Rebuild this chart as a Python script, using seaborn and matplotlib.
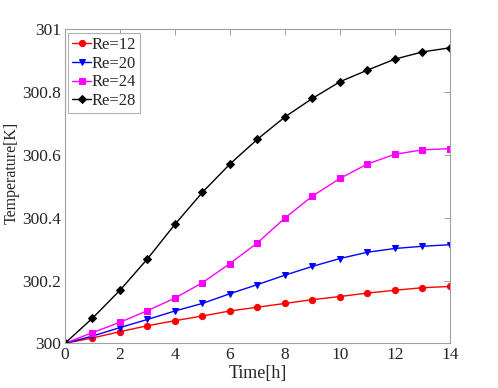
import numpy as np
import pandas as pd
import seaborn as sns
import matplotlib
matplotlib.use("Agg")
import matplotlib.pyplot as plt

hours = list(range(15))
re12 = [0, 0.017, 0.037, 0.056, 0.072, 0.087, 0.103, 0.115, 0.127, 0.139, 0.149, 0.160, 0.169, 0.177, 0.181]
re20 = [0, 0.023, 0.050, 0.076, 0.103, 0.127, 0.158, 0.187, 0.217, 0.245, 0.270, 0.290, 0.302, 0.309, 0.314]
re24 = [0, 0.034, 0.067, 0.104, 0.144, 0.193, 0.254, 0.320, 0.399, 0.469, 0.525, 0.571, 0.602, 0.616, 0.620]
re28 = [0, 0.080, 0.169, 0.269, 0.379, 0.481, 0.571, 0.650, 0.721, 0.780, 0.833, 0.870, 0.905, 0.928, 0.941]
labels = ["Re=12", "Re=20", "Re=24", "Re=28"]
colors = ["#ff0000", "#0000ff", "#ff00ff", "#000000"]
markers = ["o", "v", "s", "D"]

sns.set_style("white")
plt.rcParams["font.family"] = ["Liberation Serif", "DejaVu Serif"]

fig = plt.figure(figsize=(4.98, 3.88), dpi=100)
ax = fig.add_axes([0.1305, 0.1152, 0.773, 0.8093])

for vals, lab, c, m in zip([re12, re20, re24, re28], labels, colors, markers):
    df = pd.DataFrame({"t": hours, "T": 300 + np.array(vals)})
    sns.lineplot(data=df, x="t", y="T", ax=ax, color=c, marker=m, markersize=4.5 if m != "D" else 3.8,
                 markeredgecolor=c, linewidth=1.0, label=lab)

ax.set_xlim(0, 14)
ax.set_ylim(300, 301)
ax.set_xticks(range(0, 15, 2))
ax.set_yticks([300, 300.2, 300.4, 300.6, 300.8, 301])
ax.set_yticklabels(["300", "300.2", "300.4", "300.6", "300.8", "301"])
ax.set_xlabel("Time[h]", fontsize=13, color="#262626", labelpad=1)
ax.set_ylabel("Temperature[K]", fontsize=11.5, color="#262626", labelpad=2)
ax.yaxis.set_label_coords(-0.118, 0.544)
ax.tick_params(direction="in", length=4, width=0.6, color="#909090", labelsize=12.5,
               labelcolor="#262626", top=True, right=True, pad=3)
for s in ax.spines.values():
    s.set_color("#a0a0a0")
    s.set_linewidth(0.8)

leg = ax.legend(loc="upper left", fontsize=12, frameon=True, fancybox=False, borderpad=0.25,
                labelspacing=0.17, handlelength=1.1, handletextpad=0.05, borderaxespad=0.2)
leg.get_frame().set_edgecolor("#a0a0a0")
leg.get_frame().set_linewidth(0.8)

fig.savefig("out.png", dpi=100)
